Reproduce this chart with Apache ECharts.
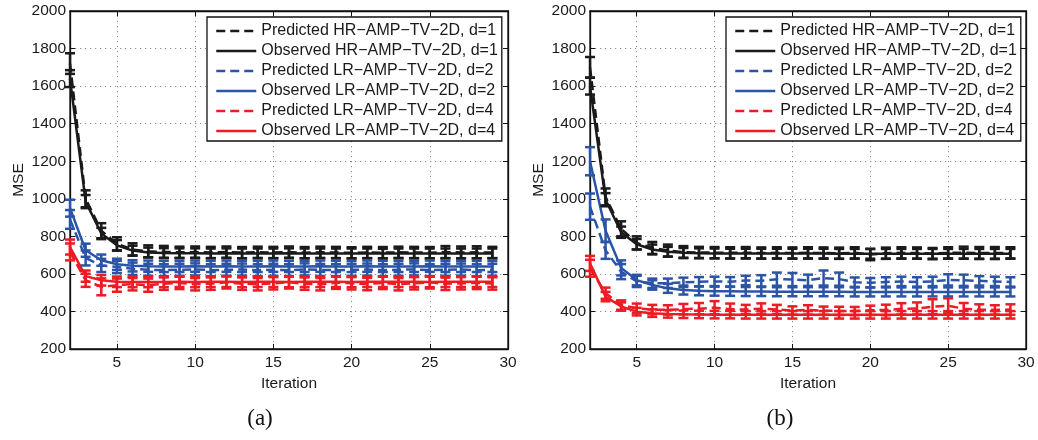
<!DOCTYPE html>
<html>
<head>
<meta charset="utf-8">
<script src="https://cdn.jsdelivr.net/npm/echarts@6/dist/echarts.min.js"></script>
<style>
html,body{margin:0;padding:0;background:#fff;}
#c{width:1038px;height:440px;}
</style>
</head>
<body>
<div id="c"></div>
<script>
// ---------------- data ----------------
const ITER = [2,3,4,5,6,7,8,9,10,11,12,13,14,15,16,17,18,19,20,21,22,23,24,25,26,27,28,29];
const NAMES = [
  'Predicted HR\u2212AMP\u2212TV\u22122D, d=1',
  'Observed HR\u2212AMP\u2212TV\u22122D, d=1',
  'Predicted LR\u2212AMP\u2212TV\u22122D, d=2',
  'Observed LR\u2212AMP\u2212TV\u22122D, d=2',
  'Predicted LR\u2212AMP\u2212TV\u22122D, d=4',
  'Observed LR\u2212AMP\u2212TV\u22122D, d=4'
];
const CAPTIONS = ['(a)', '(b)'];

// panel (a)
const A_pred_HR = [1720,1000,830,760,730,720,717,715,716,714,716,713,715,714,716,713,715,714,712,714,713,715,714,713,716,714,715,714];
const A_pred_HR_err = [55,45,40,35,33,32,32,30,30,30,30,30,30,30,30,30,30,30,30,30,30,30,30,30,32,32,32,30];
const A_obs_HR = [1640,985,815,752,724,714,711,710,710,709,710,709,709,709,710,709,709,709,709,709,708,709,709,709,709,709,709,709];
const A_obs_HR_err = [45,35,30,28,26,26,26,26,26,26,26,26,26,26,26,26,26,26,26,26,26,26,26,26,26,26,26,26];
const A_pred_LR2 = [890,685,645,637,627,622,620,622,624,620,622,623,620,622,620,624,621,620,622,623,620,622,624,620,622,623,620,622];
const A_pred_LR2_err = [50,40,35,33,33,32,32,32,32,32,32,32,32,32,32,32,32,32,32,32,32,32,32,32,32,32,32,32];
const A_obs_LR2 = [950,726,673,651,643,641,640,640,641,640,641,640,640,641,640,640,641,640,640,641,640,640,640,641,640,640,640,640];
const A_obs_LR2_err = [45,35,30,30,30,30,30,30,30,30,30,30,30,30,30,30,30,30,30,30,30,30,30,30,30,30,30,30];
const A_pred_LR4 = [717,566,531,540,545,540,548,552,545,548,555,548,545,550,555,548,545,553,550,546,552,545,550,555,547,550,552,549];
const A_pred_LR4_err = [45,35,45,35,33,35,33,33,33,33,33,33,33,33,33,33,33,33,33,33,33,33,33,33,33,33,33,33];
const A_obs_LR4 = [743,588,566,558,557,557,557,558,557,558,558,557,558,558,557,558,558,558,557,558,558,558,558,557,558,558,558,558];
const A_obs_LR4_err = [40,30,28,28,28,28,28,28,28,28,28,28,28,28,28,28,28,28,28,28,28,28,28,28,28,28,28,28];

// panel (b)
const B_pred_HR = [1700,1010,840,765,738,724,716,714,713,712,713,711,712,711,712,711,710,712,703,710,712,711,708,712,713,711,711,712];
const B_pred_HR_err = [55,45,40,35,32,32,32,30,30,30,30,30,30,30,30,30,30,30,30,30,30,30,30,30,32,32,32,30];
const B_obs_HR = [1600,995,822,758,730,718,712,710,709,708,708,708,708,708,708,708,707,707,707,707,707,707,707,707,707,707,707,707];
const B_obs_HR_err = [45,35,30,28,26,26,26,26,26,26,26,26,26,26,26,26,26,26,26,26,26,26,26,26,26,26,26,26];
const B_pred_LR2 = [958,725,612,560,550,550,555,558,560,558,565,563,572,570,566,578,572,556,553,557,560,557,560,568,566,563,560,557];
const B_pred_LR2_err = [70,45,40,30,25,25,25,25,25,25,25,30,35,35,30,40,35,25,25,25,25,25,25,30,30,25,25,25];
const B_obs_LR2 = [1200,830,632,567,541,523,514,510,508,507,506,506,505,505,505,505,505,504,504,504,504,504,504,504,504,504,504,504];
const B_obs_LR2_err = [75,60,40,28,25,24,24,24,24,24,24,24,24,24,24,24,24,24,24,24,24,24,24,24,24,24,24,24];
const B_pred_LR4 = [630,497,434,417,410,408,412,415,420,412,410,415,410,405,408,404,403,402,406,408,414,416,425,430,415,410,408,410];
const B_pred_LR4_err = [45,30,25,25,25,25,28,30,35,30,25,28,25,22,25,22,22,22,25,28,30,32,40,40,30,28,25,28];
const B_obs_LR4 = [656,479,426,399,391,387,385,384,383,383,382,382,382,382,382,382,382,382,382,382,382,382,382,382,382,382,382,382];
const B_obs_LR4_err = [40,25,22,20,20,20,20,20,20,20,20,20,20,20,20,20,20,20,20,20,20,20,20,20,20,20,20,20];

// ---------------- styles ----------------
const COLORS = ['#1a1a1a','#1a1a1a','#2b54a6','#2b54a6','#ec1c24','#ec1c24'];
const DASHED = [true,false,true,false,true,false];
const PANELS = [
  {vals:[A_pred_HR,A_obs_HR,A_pred_LR2,A_obs_LR2,A_pred_LR4,A_obs_LR4],
   errs:[A_pred_HR_err,A_obs_HR_err,A_pred_LR2_err,A_obs_LR2_err,A_pred_LR4_err,A_obs_LR4_err]},
  {vals:[B_pred_HR,B_obs_HR,B_pred_LR2,B_obs_LR2,B_pred_LR4,B_obs_LR4],
   errs:[B_pred_HR_err,B_obs_HR_err,B_pred_LR2_err,B_obs_LR2_err,B_pred_LR4_err,B_obs_LR4_err]}
];
const FONT = 'Liberation Sans, Arial, sans-serif';
const FS = 15.5;
const grids = [
  {left:70, top:11, width:438, height:338, show:true, borderColor:'#111', borderWidth:1.3, backgroundColor:'#fff'},
  {left:590, top:11, width:436, height:338, show:true, borderColor:'#111', borderWidth:1.3, backgroundColor:'#fff'}
];

const gridLine = {show:true, lineStyle:{color:'#8a8a8a', width:1, type:[1.2,3.8]}};
const xAxes = [], yAxes = [];
[0,1].forEach(g => {
  xAxes.push({
    type:'value', gridIndex:g, position:'bottom', min:2, max:30, splitNumber:5,
    name:'Iteration', nameLocation:'middle', nameGap:21,
    nameTextStyle:{fontFamily:FONT, fontSize:FS, color:'#1a1a1a'},
    axisLine:{show:true, onZero:false, lineStyle:{color:'#111', width:1.3}},
    axisTick:{show:true, inside:true, length:5, lineStyle:{color:'#111', width:1}},
    axisLabel:{showMinLabel:false, fontFamily:FONT, fontSize:FS, color:'#1a1a1a', margin:6,
               formatter: v => String(v)},
    splitLine:gridLine
  });
  xAxes.push({
    type:'value', gridIndex:g, position:'top', min:2, max:30, splitNumber:5,
    axisLine:{show:true, onZero:false, lineStyle:{color:'#111', width:1.3}},
    axisTick:{show:true, inside:true, length:5, lineStyle:{color:'#111', width:1}},
    axisLabel:{show:false}, splitLine:{show:false}
  });
  yAxes.push({
    type:'value', gridIndex:g, position:'left', min:200, max:2000, interval:200,
    name:'MSE', nameLocation:'middle', nameGap:43,
    nameTextStyle:{fontFamily:FONT, fontSize:FS, color:'#1a1a1a'},
    axisLine:{show:true, onZero:false, lineStyle:{color:'#111', width:1.3}},
    axisTick:{show:true, inside:true, length:5, lineStyle:{color:'#111', width:1}},
    axisLabel:{fontFamily:FONT, fontSize:FS, color:'#1a1a1a', margin:4, formatter: v => String(v)},
    splitLine:gridLine
  });
  yAxes.push({
    type:'value', gridIndex:g, position:'right', min:200, max:2000, interval:200,
    axisLine:{show:true, onZero:false, lineStyle:{color:'#111', width:1.3}},
    axisTick:{show:true, inside:true, length:5, lineStyle:{color:'#111', width:1}},
    axisLabel:{show:false}, splitLine:{show:false}
  });
});

function errRender(color){
  return function(params, api){
    const x = api.value(0), lo = api.value(1), hi = api.value(2);
    const p1 = api.coord([x, hi]), p2 = api.coord([x, lo]);
    const w = 5;
    const st = {stroke:color, lineWidth:2.5, fill:null};
    return {type:'group', children:[
      {type:'line', shape:{x1:p1[0], y1:p1[1], x2:p2[0], y2:p2[1]}, style:st},
      {type:'line', shape:{x1:p1[0]-w, y1:p1[1], x2:p1[0]+w, y2:p1[1]}, style:st},
      {type:'line', shape:{x1:p2[0]-w, y1:p2[1], x2:p2[0]+w, y2:p2[1]}, style:st}
    ]};
  };
}

const series = [];
PANELS.forEach((P, g) => {
  P.vals.forEach((vals, k) => {
    series.push({
      type:'line', name:NAMES[k], xAxisIndex:2*g, yAxisIndex:2*g,
      data: ITER.map((it, i) => [it, vals[i]]),
      symbol:'none', showSymbol:false, z:3,
      lineStyle:{color:COLORS[k], width:2.5, type: DASHED[k] ? [9,5] : 'solid'},
      itemStyle:{color:COLORS[k]}
    });
    series.push({
      type:'custom', name:NAMES[k] + ' err', xAxisIndex:2*g, yAxisIndex:2*g,
      renderItem: errRender(COLORS[k]), z:4,
      encode:{x:0, y:[1,2]},
      data: ITER.map((it, i) => [it, vals[i] - P.errs[k][i], vals[i] + P.errs[k][i]])
    });
  });
});

const legends = [207, 726].map(left => ({
  show:true, orient:'vertical', left:left, top:17, data:NAMES.slice(),
  itemWidth:40, itemHeight:14, itemGap:4,
  padding:[6,4,2,8], borderColor:'#111', borderWidth:1.3, backgroundColor:'#fff',
  selectedMode:false, z:10,
  itemStyle:{opacity:0},
  lineStyle:{width:2.5},
  textStyle:{fontFamily:FONT, fontSize:16, color:'#1a1a1a'}
}));

const titles = CAPTIONS.map((t, i) => ({
  text:t, left: i === 0 ? 255 : 775, top:402, textAlign:'center',
  textStyle:{fontFamily:'Liberation Serif, Times New Roman, serif', fontSize:23, fontWeight:'normal', color:'#111'}
}));

const chart = echarts.init(document.getElementById('c'), null, {renderer:'canvas'});
chart.setOption({
  animation:false,
  backgroundColor:'#fff',
  title:titles,
  legend:legends,
  grid:grids,
  xAxis:xAxes,
  yAxis:yAxes,
  series:series
});
</script>
</body>
</html>
